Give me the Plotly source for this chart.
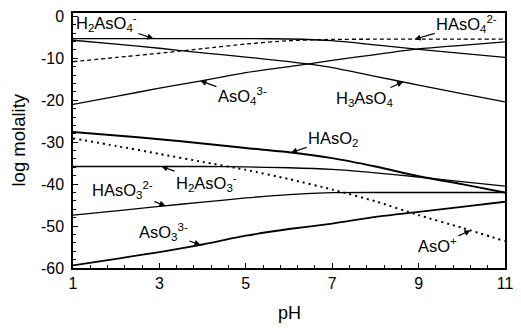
import numpy as np
import plotly.graph_objects as go

pH = [1, 2, 3, 4, 5, 6, 7, 8, 9, 10, 11]

H2AsO4 = [-5.3, -5.3, -5.3, -5.3, -5.3, -5.4, -5.8, -6.8, -7.85, -8.85, -9.8]
HAsO4 = [-10.8, -9.8, -8.8, -7.7, -6.6, -5.8, -5.5, -5.45, -5.45, -5.45, -5.45]
AsO4 = [-21.0, -19.1, -17.1, -15.3, -13.4, -12.0, -10.5, -9.1, -7.75, -6.9, -6.1]
H3AsO4 = [-5.7, -6.6, -7.6, -8.7, -9.7, -10.8, -12.2, -14.3, -16.4, -18.4, -20.4]
HAsO2 = [-27.6, -28.4, -29.3, -30.3, -31.4, -32.4, -33.8, -35.8, -38.1, -40.0, -42.0]
H2AsO3 = [-35.8, -35.8, -35.8, -35.8, -35.9, -36.1, -36.5, -37.3, -38.3, -39.4, -40.5]
HAsO3 = [-47.4, -46.4, -45.3, -44.3, -43.3, -42.5, -42.05, -42.0, -42.0, -42.0, -42.0]
AsO3 = [-59.4, -57.8, -56.2, -54.4, -52.3, -50.7, -49.4, -47.8, -46.6, -45.4, -44.2]
AsOp = [-29.1, -30.9, -32.8, -34.7, -36.6, -38.8, -41.3, -44.1, -47.4, -50.4, -53.6]

x_ticks = [1, 3, 5, 7, 9, 11]
y_ticks = [0, -10, -20, -30, -40, -50, -60]

FONT = "Liberation Sans, Arial, sans-serif"

series = [
    (H2AsO4, 1.3, "solid"),
    (HAsO4, 1.3, "4px,3px"),
    (AsO4, 1.3, "solid"),
    (H3AsO4, 1.3, "solid"),
    (HAsO2, 2.0, "solid"),
    (H2AsO3, 1.3, "solid"),
    (HAsO3, 1.3, "solid"),
    (AsO3, 1.8, "solid"),
    (AsOp, 2.0, "2px,4px"),
]

fig = go.Figure()
for vals, w, dash in series:
    fig.add_trace(go.Scatter(x=pH, y=vals, mode="lines",
                             line=dict(color="black", width=w, dash=dash,
                                       shape="spline", smoothing=0.6),
                             showlegend=False, hoverinfo="skip"))

# labels: (text, series, tip pH, ax, ay)
labels = [
    ("H<sub>2</sub>AsO<sub>4</sub><sup>-</sup>", H2AsO4, 2.86, -47, -16),
    ("HAsO<sub>4</sub><sup>2-</sup>", HAsO4, 8.91, 52, -15),
    ("AsO<sub>4</sub><sup>3-</sup>", AsO4, 3.95, 42, 15),
    ("H<sub>3</sub>AsO<sub>4</sub>", H3AsO4, 8.64, -39, 17),
    ("HAsO<sub>2</sub>", HAsO2, 6.05, 42, -14),
    ("H<sub>2</sub>AsO<sub>3</sub><sup>-</sup>", H2AsO3, 3.05, 45, 16),
    ("HAsO<sub>3</sub><sup>2-</sup>", HAsO3, 3.14, -43, -16),
    ("AsO<sub>3</sub><sup>3-</sup>", AsO3, 3.95, -37, -13),
    ("AsO<sup>+</sup>", AsOp, 10.2, -33, 15),
]
for text, vals, tx, ax, ay in labels:
    ty = float(np.interp(tx, pH, vals))
    fig.add_annotation(x=tx, y=ty, xref="x", yref="y", text=text,
                       showarrow=True, arrowhead=2, arrowsize=1, arrowwidth=1.2,
                       arrowcolor="black", ax=ax, ay=ay, standoff=0,
                       font=dict(family=FONT, size=16.5, color="black"))

fig.add_annotation(text="pH", xref="paper", yref="paper", x=0.5, y=0,
                   xanchor="center", yanchor="middle", yshift=-45, showarrow=False,
                   font=dict(family=FONT, size=18, color="black"))
fig.add_annotation(text="log molality", xref="paper", yref="paper", x=0, y=0.5,
                   xanchor="center", yanchor="middle", xshift=-55, textangle=-90,
                   showarrow=False, font=dict(family=FONT, size=18.5, color="black"))

fig.update_xaxes(range=[1, 11], tickvals=x_ticks, ticktext=[str(v) for v in x_ticks],
                 ticks="inside", ticklen=5, tickwidth=1.2, tickcolor="black",
                 showline=True, linecolor="black", linewidth=1.5, mirror=True,
                 showgrid=False, zeroline=False,
                 minor=dict(dtick=0.4, tick0=1, ticks="inside", ticklen=3,
                            tickcolor="black", showgrid=False),
                 tickfont=dict(family=FONT, size=16, color="black"))
fig.update_yaxes(range=[-60, 0.8], tickvals=y_ticks, ticktext=[str(v) for v in y_ticks],
                 ticks="inside", ticklen=5, tickwidth=1.2, tickcolor="black",
                 showline=True, linecolor="black", linewidth=1.5, mirror=True,
                 showgrid=False, zeroline=False, ticklabelstandoff=4,
                 minor=dict(dtick=2, tick0=0, ticks="inside", ticklen=3,
                            tickcolor="black", showgrid=False),
                 tickfont=dict(family=FONT, size=16, color="black"))

fig.update_layout(width=521, height=328, margin=dict(l=73, r=8, t=12, b=60),
                  plot_bgcolor="white", paper_bgcolor="white",
                  font=dict(family=FONT, color="black"))

fig.write_html("out.html")
